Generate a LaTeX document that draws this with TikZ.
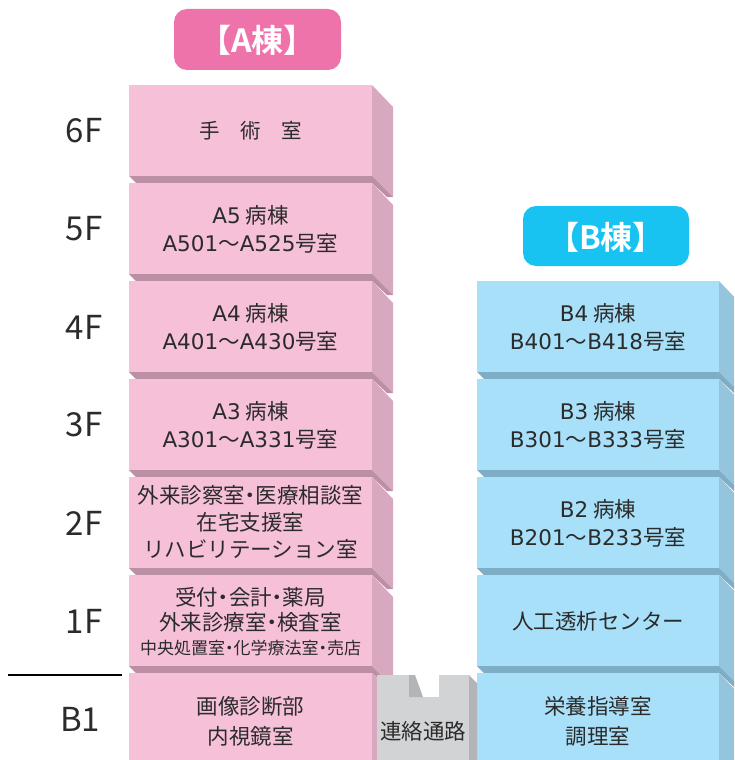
\documentclass[tikz,border=0pt]{standalone}
\usepackage{fontspec}
\setmainfont{Noto Sans CJK JP}
\newfontfamily\lat{DejaVu Sans}
\newfontfamily\hdrfont{Noto Sans CJK JP Bold}
\newcommand\nkdot{\hbox to 0.5em{\hss・\hss}}
\definecolor{pinkF}{HTML}{F6C0D9}
\definecolor{pinkS}{HTML}{D8A7C0}
\definecolor{pinkD}{HTML}{BC8FA5}
\definecolor{pinkL}{HTML}{EF73AB}
\definecolor{blueF}{HTML}{A9E0F9}
\definecolor{blueS}{HTML}{94C5DD}
\definecolor{blueD}{HTML}{7EAEC6}
\definecolor{blueL}{HTML}{18C3F1}
\definecolor{grayF}{HTML}{D2D3D5}
\definecolor{grayD}{HTML}{B3B4B7}
\definecolor{txt}{HTML}{2B2B2B}
\tikzset{
  pics/blk/.style n args={4}{code={%
    \fill[#3] (#1,0) -- (#1+21,22) -- (#1+21,112) -- (#1,91) -- cycle;
    \fill[#2] (0,0) rectangle (#1,91);
    \fill[#4] (0,91) -- (#1,91) -- (#1+21,112) -- (#1+15,112) -- (#1,98) -- (7,98) -- cycle;
  }},
  roomtxt/.style={text=txt, align=center, inner sep=0pt, font=\fontsize{21.5}{28}\selectfont},
  floortxt/.style={text=txt, inner sep=0pt, font=\fontsize{33}{34}\selectfont},
  header/.style={text=white, inner sep=0pt, font=\fontsize{32}{32}\selectfont\hdrfont},
}
\begin{document}
\begin{tikzpicture}[x=1pt,y=-1pt]
\useasboundingbox (0,0) rectangle (734,760);
\clip (0,0) rectangle (734,760);
% A building
\foreach \k in {0,...,6} {
  \pic at (129,{85+98*\k}) {blk={243}{pinkF}{pinkS}{pinkD}};
}
% B building
\foreach \k in {2,...,6} {
  \pic at (477,{85+98*\k}) {blk={242}{blueF}{blueS}{blueD}};
}
% connector
\fill[grayF] (377,675) -- (409,675) -- (409,697) -- (439,697) -- (439,675) -- (469,675) -- (469,765) -- (377,765) -- cycle;
\fill[grayD] (409,675) -- (415,675) -- (423,697) -- (409,697) -- cycle;
\fill[grayD] (469,675) -- (477,683) -- (477,765) -- (469,765) -- cycle;
\node[roomtxt] (conn) at (423,731) {連絡通路};
% headers
\fill[pinkL, rounded corners=13pt] (174,9) rectangle (341,70);
\node[header] (hA) at (257.5,40) {【A棟】};
\fill[blueL, rounded corners=13pt] (523,206) rectangle (689,266);
\node[header] (hB) at (606,237) {【B棟】};
% floor labels
\node[floortxt] (f6) at (84,131) {6F};
\node[floortxt] (f5) at (84,229) {5F};
\node[floortxt] (f4) at (84,327) {4F};
\node[floortxt] (f3) at (84,425) {3F};
\node[floortxt] (f2) at (84,523) {2F};
\node[floortxt] (f1) at (84,621) {1F};
\node[floortxt] (fb) at (80,719) {B1};
\coordinate (l1) at (8,675);
\coordinate (l2) at (122,675);
\draw[line width=1.2pt, black] (l1) -- (l2);
% A rooms
\node[roomtxt, font=\fontsize{20.5}{28}\selectfont] (a6) at (250.5,131) {手　術　室};
\node[roomtxt] (a5) at (250.5,229) {{\lat A5} 病棟\\{\lat A501}～{\lat A525}号室};
\node[roomtxt] (a4) at (250.5,327) {{\lat A4} 病棟\\{\lat A401}～{\lat A430}号室};
\node[roomtxt] (a3) at (250.5,425) {{\lat A3} 病棟\\{\lat A301}～{\lat A331}号室};
\node[roomtxt, font=\fontsize{21.5}{27}\selectfont] (a2) at (250.5,522) {外来診察室\nkdot 医療相談室\\在宅支援室\\リハビリテーション室};
\node[roomtxt] (a1a) at (250.5,597) {受付\nkdot 会計\nkdot 薬局};
\node[roomtxt] (a1b) at (250.5,622) {外来診療室\nkdot 検査室};
\node[roomtxt, font=\fontsize{17}{20}\selectfont] (a1c) at (250.5,648) {中央処置室\nkdot 化学療法室\nkdot 売店};
\node[roomtxt, font=\fontsize{21.5}{30}\selectfont] (ab) at (250.5,721) {画像診断部\\内視鏡室};
% B rooms
\node[roomtxt] (b4) at (598,327) {{\lat B4} 病棟\\{\lat B401}～{\lat B418}号室};
\node[roomtxt] (b3) at (598,425) {{\lat B3} 病棟\\{\lat B301}～{\lat B333}号室};
\node[roomtxt] (b2) at (598,523) {{\lat B2} 病棟\\{\lat B201}～{\lat B233}号室};
\node[roomtxt] (b1) at (598,621) {人工透析センター};
\node[roomtxt, font=\fontsize{21.5}{30}\selectfont] (bb) at (598,721) {栄養指導室\\調理室};
\end{tikzpicture}
\end{document}
